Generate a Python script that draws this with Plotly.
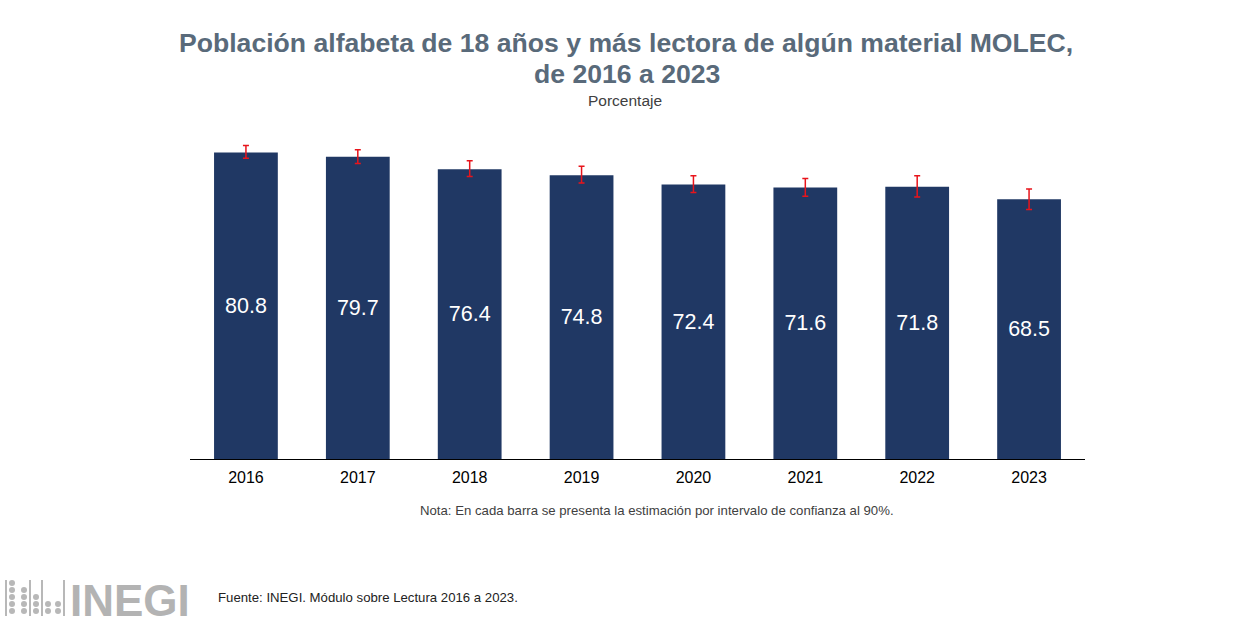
import plotly.graph_objects as go

years = ["2016", "2017", "2018", "2019", "2020", "2021", "2022", "2023"]
values = [80.8, 79.7, 76.4, 74.8, 72.4, 71.6, 71.8, 68.5]
err_plus = [1.9, 1.85, 2.25, 2.4, 2.3, 2.4, 2.9, 2.7]
err_minus = [1.5, 1.75, 1.9, 2.0, 2.1, 2.3, 2.7, 2.7]
value_labels = [f"{v:.1f}" for v in values]

title_line1 = "Población alfabeta de 18 años y más lectora de algún material MOLEC,"
title_line2 = "de 2016 a 2023"
subtitle = "Porcentaje"
note = "Nota: En cada barra se presenta la estimación por intervalo de confianza al 90%."
source = "Fuente: INEGI. Módulo sobre Lectura 2016 a 2023."

W, H = 1244, 627
L, R = 190, 1085
T, B = 120, 459
ymax = 89.4

def px(x):
    return (x - L) / (R - L)

def py(y):
    return (B - y) / (B - T)

FONT = "Liberation Sans, Arial"

fig = go.Figure()
fig.add_trace(go.Bar(
    x=years, y=values,
    marker=dict(color="#203864", line=dict(width=0)),
    text=value_labels, textposition="inside", insidetextanchor="middle",
    textfont=dict(color="white", size=21.5, family=FONT),
    error_y=dict(type="data", symmetric=False, array=err_plus, arrayminus=err_minus,
                 color="#e8141b", thickness=1.5, width=3),
    hoverinfo="x+y",
))

annotations = [
    dict(text="<b>" + title_line1 + "</b>", x=px(626), y=py(43), xref="paper", yref="paper",
         showarrow=False, xanchor="center", yanchor="middle",
         font=dict(size=26.6, color="#596a7a", family=FONT)),
    dict(text="<b>" + title_line2 + "</b>", x=px(627), y=py(74), xref="paper", yref="paper",
         showarrow=False, xanchor="center", yanchor="middle",
         font=dict(size=26.6, color="#596a7a", family=FONT)),
    dict(text=subtitle, x=px(625), y=py(100), xref="paper", yref="paper",
         showarrow=False, xanchor="center", yanchor="middle",
         font=dict(size=15.5, color="#404040", family=FONT)),
    dict(text=note, x=px(657), y=py(510), xref="paper", yref="paper",
         showarrow=False, xanchor="center", yanchor="middle",
         font=dict(size=13.2, color="#404040", family=FONT)),
    dict(text=source, x=px(216), y=py(597), xref="paper", yref="paper",
         showarrow=False, xanchor="left", yanchor="middle",
         font=dict(size=13.2, color="#222222", family=FONT)),
    dict(text="<b>INEGI</b>", x=px(68), y=py(600), xref="paper", yref="paper",
         showarrow=False, xanchor="left", yanchor="middle",
         font=dict(size=44, color="#b3b3b3", family=FONT)),
]

shapes = []
# logo dots (decorative)
dot_cols = [(12, [583, 590, 597, 604, 611]), (24, [590, 597, 604, 611]),
            (36, [597, 604, 611]), (48, [604, 611]), (58, [604, 611])]
for cx, ys in dot_cols:
    for cy in ys:
        shapes.append(dict(type="circle", xref="paper", yref="paper",
                           x0=px(cx - 3), x1=px(cx + 3), y0=py(cy + 3), y1=py(cy - 3),
                           fillcolor="#b8b8b8", line=dict(width=0)))
for lx in [6, 30, 42, 64]:
    shapes.append(dict(type="line", xref="paper", yref="paper",
                       x0=px(lx), x1=px(lx), y0=py(580), y1=py(616),
                       line=dict(color="#b8b8b8", width=2)))

fig.update_layout(
    width=W, height=H,
    margin=dict(l=L, r=W - R, t=T, b=H - B, pad=0),
    paper_bgcolor="white", plot_bgcolor="white",
    bargap=0.43,
    showlegend=False,
    xaxis=dict(showgrid=False, showline=True, linecolor="black", linewidth=1,
               ticks="", tickfont=dict(size=16, color="black", family=FONT),
               ticklabelstandoff=4, fixedrange=True),
    yaxis=dict(range=[0, ymax], visible=False, showgrid=False, zeroline=False, fixedrange=True),
    annotations=annotations,
    shapes=shapes,
)

fig.write_html("out.html", config={"displayModeBar": False})

with open("out.html", "r", encoding="utf-8") as f:
    html = f.read()
html = html.replace("<head>", "<head><style>html,body{margin:0;padding:0;overflow:hidden;}</style>", 1)
with open("out.html", "w", encoding="utf-8") as f:
    f.write(html)
